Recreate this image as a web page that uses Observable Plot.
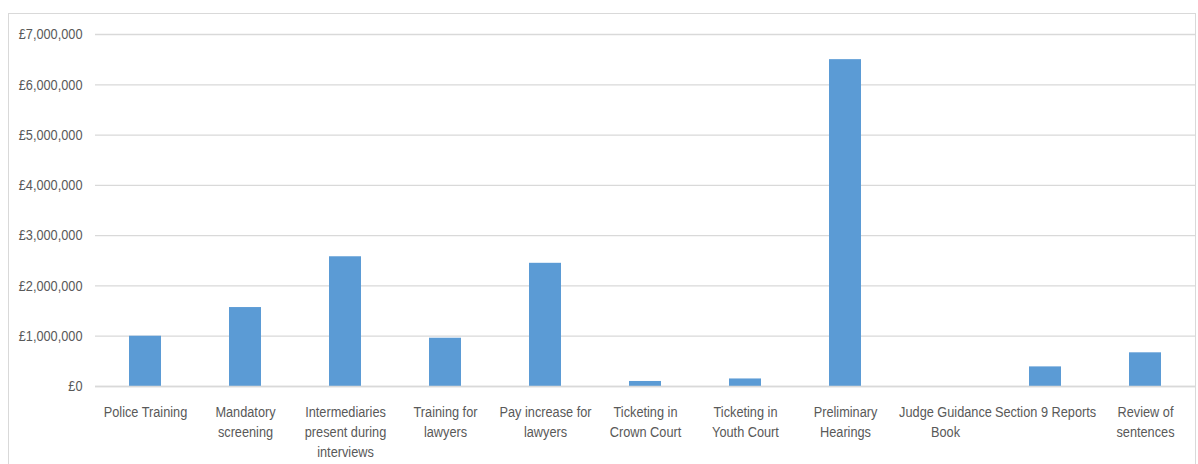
<!DOCTYPE html>
<html>
<head>
<meta charset="utf-8">
<script src="https://cdn.jsdelivr.net/npm/d3@7"></script>
<script src="https://cdn.jsdelivr.net/npm/@observablehq/plot@0.6"></script>
<style>
  html, body { margin: 0; padding: 0; background: #fff; }
  #wrap { position: relative; width: 1198px; height: 464px; overflow: hidden; }
  #border { position: absolute; left: 8px; top: 13px; width: 1188px; height: 470px; border: 1px solid #d9d9d9; box-sizing: border-box; }
  #chart { position: absolute; left: 0; top: 0; }
</style>
</head>
<body>
<div id="wrap"><div id="border"></div><div id="chart"></div></div>
<script>
const categories = [
  "Police Training", "Mandatory screening", "Intermediaries present during interviews",
  "Training for lawyers", "Pay increase for lawyers", "Ticketing in Crown Court",
  "Ticketing in Youth Court", "Preliminary Hearings", "Judge Guidance Book",
  "Section 9 Reports", "Review of sentences"
];
const tickLabels = [
  "Police Training", "Mandatory\nscreening", "Intermediaries\npresent during\ninterviews",
  "Training for\nlawyers", "Pay increase for\nlawyers", "Ticketing in\nCrown Court",
  "Ticketing in\nYouth Court", "Preliminary\nHearings", "Judge Guidance\nBook",
  "Section 9 Reports", "Review of\nsentences"
];
const costs = [1000000, 1570000, 2580000, 960000, 2450000, 100000, 150000, 6500000, 0, 390000, 670000];
const yTicks = [0, 1000000, 2000000, 3000000, 4000000, 5000000, 6000000, 7000000];

const data = categories.map((c, i) => ({category: c, cost: costs[i]}));
const labelOf = new Map(categories.map((c, i) => [c, tickLabels[i]]));
const fmt = d => "£" + d3.format(",")(d);
const font = "'Liberation Sans', Arial, sans-serif";

const chart = Plot.plot({
  width: 1198,
  height: 464,
  marginLeft: 95,
  marginRight: 3,
  marginTop: 34,
  marginBottom: 78,
  style: {fontFamily: font, fontSize: "15px", color: "#595959", background: "transparent"},
  x: {domain: categories, paddingInner: 0.68, paddingOuter: 0.34, axis: null},
  y: {domain: [0, 7000000], axis: null},
  marks: [
    Plot.gridY(yTicks, {stroke: "#d9d9d9", strokeOpacity: 1, strokeWidth: 1.3}),
    Plot.barY(data, {x: "category", y: "cost", fill: "#5b9bd5"}),
    Plot.ruleY([0], {stroke: "#d9d9d9", strokeWidth: 1.3}),
    Plot.axisY(yTicks, {tickSize: 0, tickPadding: 13, tickFormat: fmt, fill: "#595959", fontSize: 15, label: null}),
    Plot.axisX({tickSize: 0, tickPadding: 16, tickFormat: d => labelOf.get(d), fill: "#595959", fontSize: 15, lineHeight: 1.33, label: null})
  ]
});
// condense tick label glyphs horizontally (Calibri-like proportions)
chart.querySelectorAll('g[aria-label="x-axis tick label"] text, g[aria-label="y-axis tick label"] text').forEach(t => {
  const tr = t.getAttribute("transform") || "";
  t.setAttribute("transform", tr + " scale(0.85,1)");
});
document.getElementById("chart").appendChild(chart);
</script>
</body>
</html>
